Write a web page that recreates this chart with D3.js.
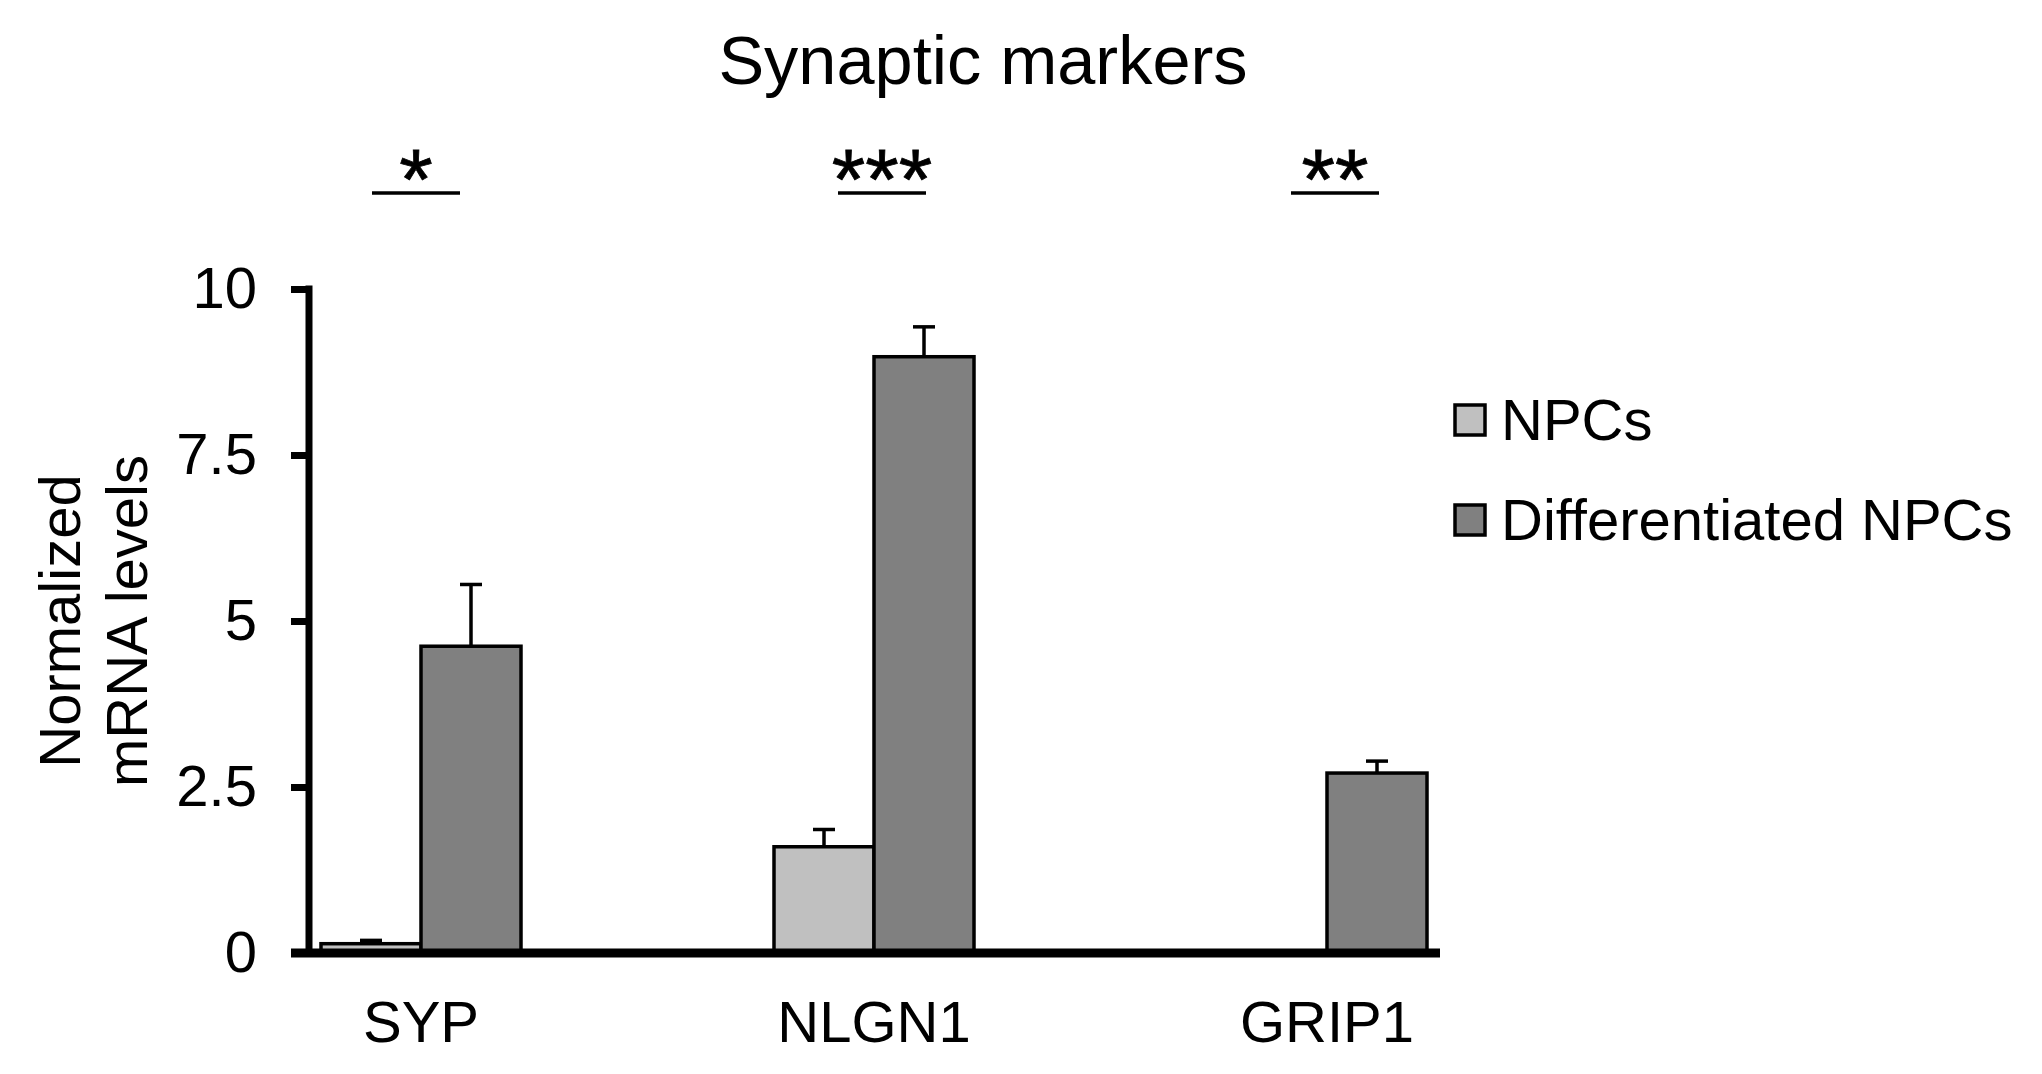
<!DOCTYPE html>
<html>
<head>
<meta charset="utf-8">
<script src="https://cdn.jsdelivr.net/npm/d3@7"></script>
<style>
  html, body { margin: 0; padding: 0; background: #fff; }
  svg { display: block; }
  text { font-family: Arial, "Liberation Sans", sans-serif; fill: #000; }
</style>
</head>
<body>
<script>
// ---- data ----
const categories = ["SYP", "NLGN1", "GRIP1"];
const seriesNames = ["NPCs", "Differentiated NPCs"];
const npcValues = [0.14, 1.60, 0];
const npcErrors = [0.05, 0.26, 0];
const diffValues = [4.62, 8.98, 2.71];
const diffErrors = [0.93, 0.45, 0.18];
const significance = ["*", "***", "**"];
const yTicks = [0, 2.5, 5, 7.5, 10];
const yTickLabels = ["0", "2.5", "5", "7.5", "10"];
const title = "Synaptic markers";
const yLabelLines = ["Normalized", "mRNA levels"];
const seriesColors = ["#c0c0c0", "#808080"];

const W = 2042, H = 1074;
const svg = d3.select("body").append("svg").attr("width", W).attr("height", H);

// scales
const axisX0 = 309, axisX1 = 1440;
const x0 = d3.scalePoint().domain(categories).range([421, 1327]);
const x1 = d3.scaleBand().domain(seriesNames).range([-100, 100]);
const y = d3.scaleLinear().domain([0, 10]).range([953, 289]);

const values = [npcValues, diffValues];
const errors = [npcErrors, diffErrors];
const rows = [];
seriesNames.forEach((s, si) => {
  categories.forEach((c, ci) => {
    rows.push({ cat: c, series: s, si, v: values[si][ci], e: errors[si][ci] });
  });
});

// title
svg.append("text")
  .attr("x", 983).attr("y", 84)
  .attr("text-anchor", "middle")
  .attr("font-size", 68.5)
  .text(title);

// bars
const g = svg.append("g");
g.selectAll("rect.bar").data(rows.filter(d => d.v > 0)).join("rect")
  .attr("class", "bar")
  .attr("x", d => x0(d.cat) + x1(d.series))
  .attr("width", x1.bandwidth())
  .attr("y", d => y(d.v))
  .attr("height", d => y(0) - y(d.v))
  .attr("fill", d => seriesColors[d.si])
  .attr("stroke", "#000")
  .attr("stroke-width", 3.5);

// error bars (upper only)
const eb = g.selectAll("g.err").data(rows.filter(d => d.e > 0)).join("g").attr("class", "err");
eb.append("line")
  .attr("x1", d => x0(d.cat) + x1(d.series) + x1.bandwidth() / 2)
  .attr("x2", d => x0(d.cat) + x1(d.series) + x1.bandwidth() / 2)
  .attr("y1", d => y(d.v))
  .attr("y2", d => y(d.v + d.e))
  .attr("stroke", "#000").attr("stroke-width", 3.5);
eb.append("line")
  .attr("x1", d => x0(d.cat) + x1(d.series) + x1.bandwidth() / 2 - 11)
  .attr("x2", d => x0(d.cat) + x1(d.series) + x1.bandwidth() / 2 + 11)
  .attr("y1", d => y(d.v + d.e))
  .attr("y2", d => y(d.v + d.e))
  .attr("stroke", "#000").attr("stroke-width", 3.5);

// y axis
const yAxis = d3.axisLeft(y).tickValues(yTicks)
  .tickFormat((d, i) => yTickLabels[i])
  .tickSize(18).tickPadding(34);
const yg = svg.append("g").attr("transform", `translate(${axisX0},0)`).call(yAxis);
yg.select(".domain").remove();
yg.selectAll(".tick line").attr("stroke", "#000").attr("stroke-width", 7);
yg.selectAll(".tick text").attr("font-size", 58)
  .attr("font-family", 'Arial, "Liberation Sans", sans-serif').attr("fill", "#000");
yg.append("line").attr("x1", 0).attr("x2", 0)
  .attr("y1", y(10) - 3.5).attr("y2", y(0))
  .attr("stroke", "#000").attr("stroke-width", 7);

// x axis baseline
svg.append("line")
  .attr("x1", axisX0 - 18).attr("x2", axisX1)
  .attr("y1", y(0)).attr("y2", y(0))
  .attr("stroke", "#000").attr("stroke-width", 9);

// category labels
svg.selectAll("text.cat").data(categories).join("text")
  .attr("class", "cat")
  .attr("x", d => x0(d)).attr("y", 1042)
  .attr("text-anchor", "middle")
  .attr("font-size", 58)
  .text(d => d);

// y label
const yl = svg.append("text")
  .attr("transform", "translate(80,621) rotate(-90)")
  .attr("text-anchor", "middle")
  .attr("font-size", 58);
yLabelLines.forEach((t, i) => {
  yl.append("tspan").attr("x", 0).attr("y", i * 67).text(t);
});

// significance markers
const sig = svg.selectAll("g.sig").data(categories).join("g").attr("class", "sig")
  .attr("transform", (d, i) => `translate(${x0(d) + (i === 0 ? -5 : 8)},0)`);
sig.append("line")
  .attr("x1", -44).attr("x2", 44)
  .attr("y1", 193).attr("y2", 193)
  .attr("stroke", "#000").attr("stroke-width", 3.5);
sig.append("text")
  .attr("x", 0).attr("y", 209)
  .attr("text-anchor", "middle")
  .attr("font-size", 86)
  .attr("stroke", "#000").attr("stroke-width", 0.8)
  .text((d, i) => significance[i]);

// legend
const leg = svg.selectAll("g.leg").data(seriesNames).join("g").attr("class", "leg")
  .attr("transform", (d, i) => `translate(1455,${420 + i * 100})`);
leg.append("rect")
  .attr("x", 0).attr("y", -15).attr("width", 30).attr("height", 30)
  .attr("fill", (d, i) => seriesColors[i])
  .attr("stroke", "#000").attr("stroke-width", 3.5);
leg.append("text")
  .attr("x", 46).attr("y", 20)
  .attr("font-size", 58)
  .text(d => d);
</script>
</body>
</html>
